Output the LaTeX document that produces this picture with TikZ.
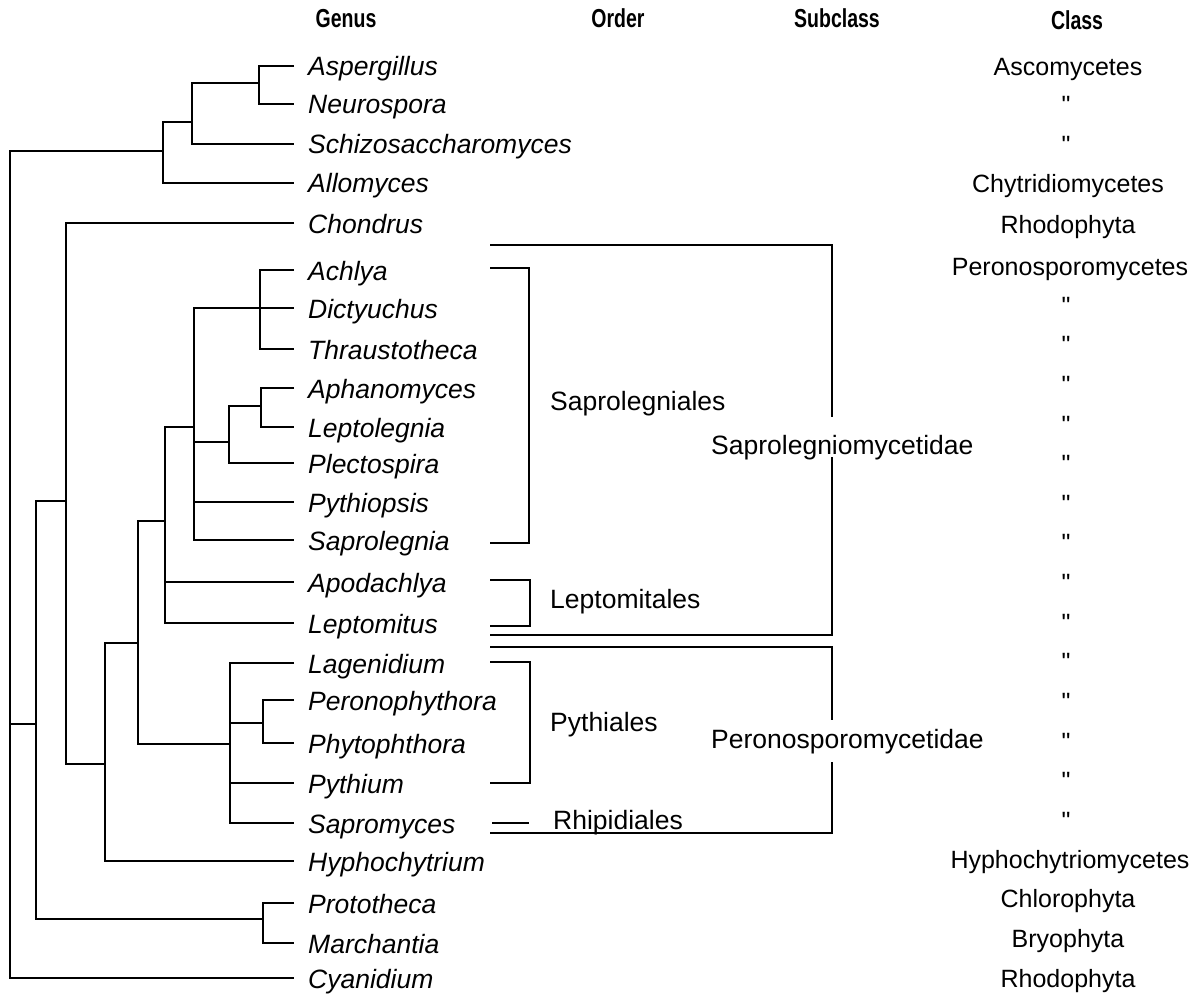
\documentclass[tikz,border=0pt]{standalone}
\usepackage{fontspec}
\setmainfont{Liberation Sans}
\newfontfamily\qfont[Ligatures=TeXOff]{Liberation Sans}
\begin{document}
\begin{tikzpicture}[x=1pt,y=-1pt,
  branch/.style={line width=1.4pt},
  genus/.style={anchor=base west, inner sep=0pt, font=\fontsize{26.5}{30}\selectfont\itshape},
  cls/.style={anchor=base, inner sep=0pt, font=\fontsize{25}{30}\selectfont},
  quot/.style={anchor=base, inner sep=0pt, font=\fontsize{25}{30}\qfont},
  lab/.style={anchor=base west, inner sep=0pt, font=\fontsize{26.5}{30}\selectfont},
  head/.style={anchor=base, inner sep=0pt, font=\fontsize{26}{30}\selectfont\bfseries}]
\useasboundingbox (0,0) rectangle (1198,995);
% headers
\node[head] (hG) at (346,28) {\scalebox{0.75}[1]{Genus}};
\node[head] (hO) at (618,28) {\scalebox{0.75}[1]{Order}};
\node[head] (hS) at (837,28) {\scalebox{0.75}[1]{Subclass}};
\node[head] (hC) at (1077,30) {\scalebox{0.75}[1]{Class}};
% leaves and genus names
\foreach \i/\y/\nm in {1/66/Aspergillus,2/104/Neurospora,3/144/Schizosaccharomyces,4/183/Allomyces,
  5/223/Chondrus,6/270/Achlya,7/308/Dictyuchus,8/349/Thraustotheca,9/388/Aphanomyces,
  10/427/Leptolegnia,11/463/Plectospira,12/502/Pythiopsis,13/540/Saprolegnia,14/582/Apodachlya,
  15/623/Leptomitus,16/663/Lagenidium,17/700/Peronophythora,18/743/Phytophthora,19/783/Pythium,
  20/823/Sapromyces,21/861/Hyphochytrium,22/903/Prototheca,23/943/Marchantia,24/978/Cyanidium}{
  \coordinate (l\i) at (294,\y);
  \node[genus] (g\i) at (308,\y+10) {\nm};
}
% internal nodes
\coordinate (n1) at (259,83);
\coordinate (n2) at (192,122);
\coordinate (n3) at (163,151);
\coordinate (root) at (10,724);
\coordinate (n36) at (36,724);
\coordinate (nPM) at (263,919);
\coordinate (n66) at (66,501);
\coordinate (n105) at (105,764);
\coordinate (n138) at (138,643);
\coordinate (n165) at (165,521);
\coordinate (n230) at (230,744);
\coordinate (n263) at (263,723);
\coordinate (n194) at (194,427);
\coordinate (n260) at (260,308);
\coordinate (n229) at (229,442);
\coordinate (n261) at (261,406);
% tree
\draw[branch] (l1) -| (n1) |- (l2);
\draw[branch] (n1) -| (n2) |- (l3);
\draw[branch] (n2) -| (n3) |- (l4);
\draw[branch] (n3) -| (root) |- (l24);
\draw[branch] (n36) -- (root);
\draw[branch] (n66) -| (n36) |- (nPM);
\draw[branch] (l22) -| (nPM) |- (l23);
\draw[branch] (l5) -| (n66) |- (n105);
\draw[branch] (n138) -| (n105) |- (l21);
\draw[branch] (n165) -| (n138) |- (n230);
\draw[branch] (n194) -| (n165) |- (l15);
\draw[branch] (n165 |- l14) -- (l14);
\draw[branch] (n260) -| (n194) |- (l13);
\draw[branch] (n229) -- (n229 -| n194);
\draw[branch] (n194 |- l12) -- (l12);
\draw[branch] (l6) -| (n260) |- (l8);
\draw[branch] (n260) -- (l7);
\draw[branch] (n261) -| (n229) |- (l11);
\draw[branch] (l9) -| (n261) |- (l10);
\draw[branch] (l16) -| (n230) |- (l20);
\draw[branch] (n263) -- (n263 -| n230);
\draw[branch] (n230 |- l19) -- (l19);
\draw[branch] (l17) -| (n263) |- (l18);
% order labels
\node[lab] (oSap) at (550,410) {Saprolegniales};
\node[lab] (oLep) at (550,608) {Leptomitales};
\node[lab] (oPyt) at (550,731) {Pythiales};
\node[lab] (oRhi) at (553,829) {Rhipidiales};
% subclass labels
\node[lab] (sSap) at (711,454) {Saprolegniomycetidae};
\node[lab] (sPer) at (711,748) {Peronosporomycetidae};
% order brackets
\coordinate (b1t) at (490,268); \coordinate (b1b) at (490,543); \coordinate (b1x) at (529,0);
\draw[branch] (b1t) -- (b1t -| b1x) -- (b1b -| b1x) -- (b1b);
\coordinate (b2t) at (490,580); \coordinate (b2b) at (490,626); \coordinate (b2x) at (530,0);
\draw[branch] (b2t) -- (b2t -| b2x) -- (b2b -| b2x) -- (b2b);
\coordinate (b3t) at (490,662); \coordinate (b3b) at (490,783); \coordinate (b3x) at (530,0);
\draw[branch] (b3t) -- (b3t -| b3x) -- (b3b -| b3x) -- (b3b);
\coordinate (b4a) at (492,823); \coordinate (b4b) at (529,823);
\draw[branch] (b4a) -- (b4b);
% subclass brackets
\coordinate (s1t) at (490,245); \coordinate (s1b) at (490,635); \coordinate (sx) at (832,0);
\coordinate (s1g1) at (832,417); \coordinate (s1g2) at (832,457);
\draw[branch] (s1t) -- (s1t -| sx) -- (s1g1);
\draw[branch] (s1g2) -- (s1b -| sx) -- (s1b);
\coordinate (s2t) at (490,647); \coordinate (s2b) at (490,833);
\coordinate (s2g1) at (832,720); \coordinate (s2g2) at (832,762);
\draw[branch] (s2t) -- (s2t -| sx) -- (s2g1);
\draw[branch] (s2g2) -- (s2b -| sx) -- (s2b);
% class column
\node[cls] (c1) at (1068,76) {Ascomycetes};
\node[quot] (c2) at (1066,114) {"};
\node[quot] (c3) at (1066,154) {"};
\node[cls] (c4) at (1068,193) {Chytridiomycetes};
\node[cls] (c5) at (1068,233) {Rhodophyta};
\node[cls] (c6) at (1070,275) {Peronosporomycetes};
\foreach \i/\y in {7/314,8/353,9/393,10/433,11/472,12/512,13/551,14/591,15/631,16/670,17/710,18/750,19/789,20/829}{
  \node[quot] (c\i) at (1066,\y) {"};
}
\node[cls] (c21) at (1070,868) {Hyphochytriomycetes};
\node[cls] (c22) at (1068,907) {Chlorophyta};
\node[cls] (c23) at (1068,947) {Bryophyta};
\node[cls] (c24) at (1068,987) {Rhodophyta};
\end{tikzpicture}
\end{document}
